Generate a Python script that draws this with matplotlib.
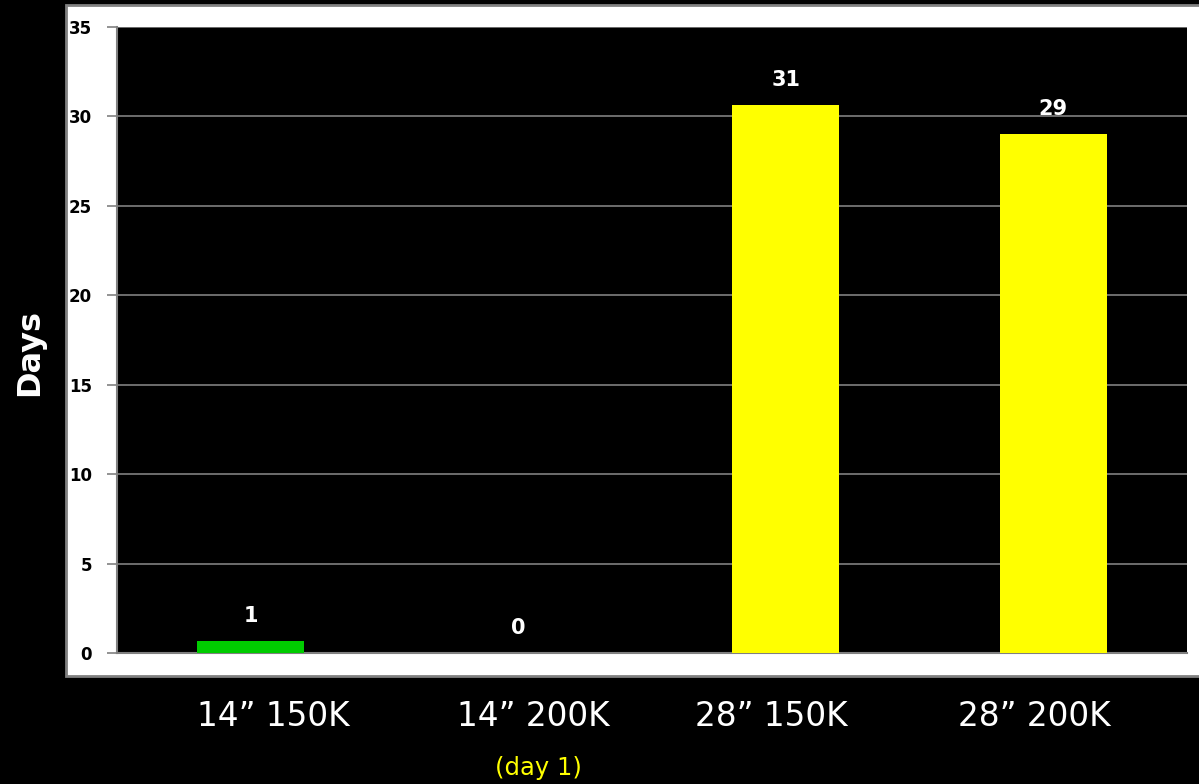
import matplotlib
matplotlib.use("Agg")
import matplotlib.pyplot as plt
from matplotlib.patches import Rectangle

categories = ["14\u201d 150K", "14\u201d 200K", "28\u201d 150K", "28\u201d 200K"]
days = [0.67, 0.0, 30.64, 29.02]
bar_colors = ["#00cc00", "#00cc00", "#ffff00", "#ffff00"]
y_ticks = [0, 5, 10, 15, 20, 25, 30, 35]
note = "(day 1)"

fig = plt.figure(figsize=(11.99, 7.84), dpi=100, facecolor="black")

# white panel behind the plot, holding the y tick labels
panel = Rectangle((0.055, 0.138), 1.0, 0.855, transform=fig.transFigure,
                  facecolor="white", edgecolor="#808080", linewidth=2, zorder=-1)
fig.patches.append(panel)

ax = fig.add_axes([0.0976, 0.1671, 0.8924, 0.7985])
ax.set_facecolor("black")

x = range(len(categories))
bars = ax.bar(x, days, width=0.4, color=bar_colors, zorder=3)
for rect, v in zip(bars, days):
    ax.annotate(f"{v:.0f}", (rect.get_x() + rect.get_width() / 2, v),
                xytext=(0, 11), textcoords="offset points", ha="center", va="bottom",
                color="white", fontsize=15, fontweight="bold")

ax.set_xlim(-0.5, len(categories) - 0.5)
ax.set_ylim(0, 35)
ax.set_yticks(y_ticks)
ax.set_yticklabels([str(t) for t in y_ticks], fontsize=12, fontweight="bold", color="black")
ax.tick_params(axis="y", length=7, width=1.2, color="#808080", pad=11)
ax.yaxis.grid(True, color="#808080", linewidth=1.2, zorder=1)
ax.set_axisbelow(True)

# category labels sit a little off the bar centres
ax.set_xticks([0.085, 1.055, 1.945, 2.93])
ax.set_xticklabels(categories, fontsize=23.5, color="white")
ax.tick_params(axis="x", length=0, pad=34)

for side in ["top", "right"]:
    ax.spines[side].set_visible(False)
for side in ["left", "bottom"]:
    ax.spines[side].set_color("#808080")
    ax.spines[side].set_linewidth(1.5)

fig.text(0.025, 0.551, "Days", rotation=90, ha="center", va="center",
         color="white", fontsize=23, fontweight="bold")
fig.text(0.449, 0.021, note, ha="center", va="center", color="#ffff00", fontsize=17.5)

fig.savefig("out.png", dpi=100, facecolor="black")
